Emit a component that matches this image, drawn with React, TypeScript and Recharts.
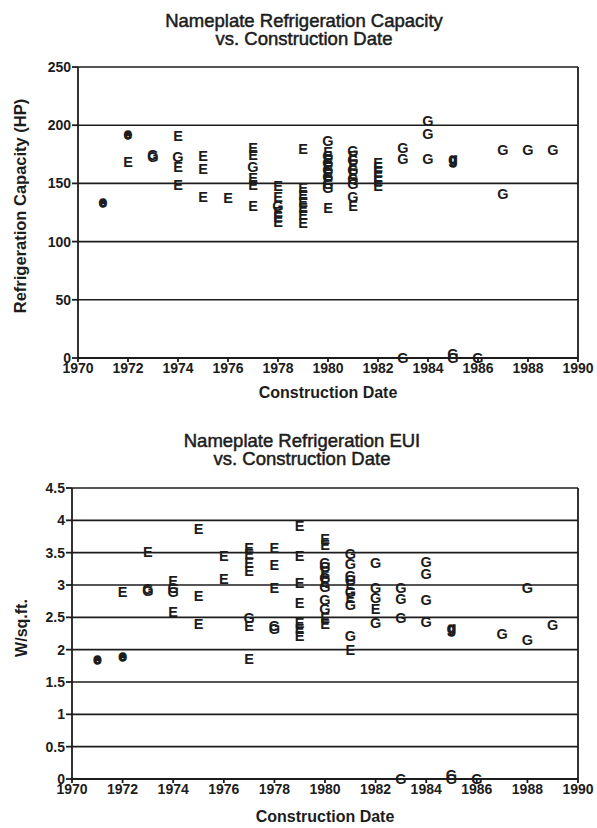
import React from 'react';
import { ScatterChart, Scatter, XAxis, YAxis, CartesianGrid, ReferenceLine } from 'recharts';

type Pt = [number, number];

const yearTicks = [1970, 1972, 1974, 1976, 1978, 1980, 1982, 1984, 1986, 1988, 1990];
const capacityTicks = [0, 50, 100, 150, 200, 250];
const euiTicks = [0, 0.5, 1, 1.5, 2, 2.5, 3, 3.5, 4, 4.5];

// Nameplate refrigeration capacity (HP) vs construction year
const capacityE: Pt[] = [
  [1972, 169],
  [1974, 191], [1974, 164], [1974, 149],
  [1975, 174], [1975, 163], [1975, 139],
  [1976, 138],
  [1977, 181], [1977, 175], [1977, 155], [1977, 149], [1977, 131],
  [1978, 148], [1978, 139], [1978, 126], [1978, 121], [1978, 117],
  [1979, 180], [1979, 146], [1979, 140], [1979, 134], [1979, 129], [1979, 123], [1979, 116],
  [1980, 177], [1980, 171], [1980, 165], [1980, 159], [1980, 153], [1980, 129],
  [1981, 174], [1981, 166], [1981, 158], [1981, 131],
  [1982, 168], [1982, 164], [1982, 160], [1982, 156], [1982, 152], [1982, 148],
];
const capacityG: Pt[] = [
  [1973, 173], [1973, 175],
  [1974, 173],
  [1977, 164],
  [1978, 131],
  [1980, 187], [1980, 174], [1980, 168], [1980, 162], [1980, 156], [1980, 150], [1980, 146],
  [1981, 178], [1981, 170], [1981, 162], [1981, 154], [1981, 150], [1981, 139],
  [1983, 181], [1983, 171], [1983, 0],
  [1984, 204], [1984, 193], [1984, 171],
  [1985, 4], [1985, 0],
  [1986, 0],
  [1987, 179], [1987, 141],
  [1988, 179],
  [1989, 179],
];
const capacitySmallE: Pt[] = [[1971, 133], [1972, 191]];
const capacitySmallG: Pt[] = [[1985, 170]];

// Nameplate refrigeration EUI (W/sq.ft.) vs construction year
const euiE: Pt[] = [
  [1972, 2.9],
  [1973, 3.52],
  [1974, 3.07], [1974, 2.58],
  [1975, 3.87], [1975, 2.84], [1975, 2.4],
  [1976, 3.46], [1976, 3.09],
  [1977, 3.58], [1977, 3.48], [1977, 3.35], [1977, 3.22], [1977, 2.37], [1977, 1.86],
  [1978, 3.58], [1978, 3.32], [1978, 2.96],
  [1979, 3.92], [1979, 3.45], [1979, 3.04], [1979, 2.73], [1979, 2.42], [1979, 2.32], [1979, 2.22],
  [1980, 3.72], [1980, 3.62], [1980, 3.2], [1980, 3.05], [1980, 2.5], [1980, 2.4],
  [1981, 3.0], [1981, 2.8], [1981, 2.0],
  [1982, 2.63],
];
const euiG: Pt[] = [
  [1973, 2.91], [1973, 2.95],
  [1974, 2.96], [1974, 2.89],
  [1977, 2.5],
  [1978, 2.37], [1978, 2.33],
  [1980, 3.35], [1980, 3.28], [1980, 3.12], [1980, 2.98], [1980, 2.78], [1980, 2.63],
  [1981, 3.48], [1981, 3.33], [1981, 3.15], [1981, 3.08], [1981, 2.9], [1981, 2.7], [1981, 2.21],
  [1982, 3.34], [1982, 2.96], [1982, 2.81], [1982, 2.42],
  [1983, 2.96], [1983, 2.79], [1983, 2.5], [1983, 0],
  [1984, 3.36], [1984, 3.17], [1984, 2.78], [1984, 2.44],
  [1985, 0.07], [1985, 0],
  [1986, 0],
  [1987, 2.24],
  [1988, 2.96], [1988, 2.15],
  [1989, 2.39],
];
const euiSmallE: Pt[] = [[1971, 1.84], [1972, 1.89]];
const euiSmallG: Pt[] = [[1985, 2.31]];

const toRows = (pts: Pt[]) => pts.map(([x, y]) => ({ x, y }));

const INK = '#1c1c1c';
const FONT = '"Liberation Sans", Arial, Helvetica, sans-serif';

const letterShape = (letter: string) => (props: any) => {
  const { cx, cy } = props;
  if (cx == null || cy == null) return <g />;
  const lower = letter === letter.toLowerCase();
  return (
    <text
      x={cx}
      y={cy + (lower ? 3.8 : 5.3)}
      textAnchor="middle"
      fontSize={lower ? 14 : 14.5}
      fontWeight="bold"
      fontFamily={FONT}
      fill={INK}
      stroke={lower ? INK : 'none'}
      strokeWidth={lower ? 1.4 : 0}
    >
      {letter}
    </text>
  );
};

const tickStyle = { fontSize: 14, fontWeight: 'bold' as const, fill: INK, fontFamily: FONT };

const fmtEui = (v: number) => String(v);

function Panel(props: {
  top: number;
  height: number;
  marginTop: number;
  yWidth: number;
  xHeight: number;
  yDomain: [number, number];
  yTicks: number[];
  E: Pt[];
  G: Pt[];
  e: Pt[];
  g: Pt[];
}) {
  return (
    <div style={{ position: 'absolute', left: 0, top: props.top }}>
      <ScatterChart
        width={597}
        height={props.height}
        margin={{ top: props.marginTop, right: 19, bottom: 0, left: 0 }}
        style={{ overflow: 'visible' }}
      >
        <CartesianGrid horizontal vertical={false} stroke={INK} strokeWidth={1.6} />
        <XAxis
          type="number"
          dataKey="x"
          domain={[1970, 1990]}
          ticks={yearTicks}
          interval={0}
          height={props.xHeight}
          tick={tickStyle}
          tickSize={4}
          tickMargin={1}
          stroke={INK}
          strokeWidth={1.8}
        />
        <YAxis
          type="number"
          dataKey="y"
          domain={props.yDomain}
          ticks={props.yTicks}
          interval={0}
          width={props.yWidth}
          tick={tickStyle}
          tickSize={6}
          tickMargin={1}
          tickFormatter={fmtEui}
          stroke={INK}
          strokeWidth={1.8}
        />
        <ReferenceLine x={1990} stroke={INK} strokeWidth={1.8} />
        <Scatter data={toRows(props.E)} isAnimationActive={false} shape={letterShape('E')} />
        <Scatter data={toRows(props.G)} isAnimationActive={false} shape={letterShape('G')} />
        <Scatter data={toRows(props.e)} isAnimationActive={false} shape={letterShape('e')} />
        <Scatter data={toRows(props.g)} isAnimationActive={false} shape={letterShape('g')} />
      </ScatterChart>
    </div>
  );
}

const titleStyle: React.CSSProperties = {
  position: 'absolute',
  left: 0,
  width: 608,
  textAlign: 'center',
  fontSize: 18.5,
  lineHeight: '18px',
  fontFamily: FONT,
  color: INK,
  WebkitTextStroke: '0.5px #1c1c1c',
};

const axisLabelStyle: React.CSSProperties = {
  position: 'absolute',
  fontSize: 16,
  fontWeight: 'bold',
  fontFamily: FONT,
  color: INK,
  whiteSpace: 'nowrap',
};

export default function App() {
  return (
    <div
      style={{
        position: 'absolute',
        left: 0,
        top: 0,
        width: 597,
        height: 828,
        background: '#fff',
        overflow: 'hidden',
        fontFamily: FONT,
      }}
    >
      <div style={{ ...titleStyle, top: 12 }}>
        Nameplate Refrigeration Capacity
        <br />
        vs. Construction Date
      </div>
      <Panel
        top={0}
        height={410}
        marginTop={67}
        yWidth={78}
        xHeight={52}
        yDomain={[0, 250]}
        yTicks={capacityTicks}
        E={capacityE}
        G={capacityG}
        e={capacitySmallE}
        g={capacitySmallG}
      />
      <div style={{ ...axisLabelStyle, left: 0, width: 656, textAlign: 'center', top: 384 }}>
        Construction Date
      </div>
      <div
        style={{
          ...axisLabelStyle,
          left: 20,
          top: 206,
          fontSize: 16.5,
          transform: 'translate(-50%, -50%) rotate(-90deg)',
        }}
      >
        Refrigeration Capacity (HP)
      </div>

      <div style={{ ...titleStyle, top: 432, width: 604 }}>
        Nameplate Refrigeration EUI
        <br />
        vs. Construction Date
      </div>
      <Panel
        top={410}
        height={418}
        marginTop={78}
        yWidth={72}
        xHeight={49}
        yDomain={[0, 4.5]}
        yTicks={euiTicks}
        E={euiE}
        G={euiG}
        e={euiSmallE}
        g={euiSmallG}
      />
      <div style={{ ...axisLabelStyle, left: 0, width: 650, textAlign: 'center', top: 808 }}>
        Construction Date
      </div>
      <div
        style={{
          ...axisLabelStyle,
          left: 22,
          top: 628,
          transform: 'translate(-50%, -50%) rotate(-90deg)',
        }}
      >
        W/sq.ft.
      </div>
    </div>
  );
}
